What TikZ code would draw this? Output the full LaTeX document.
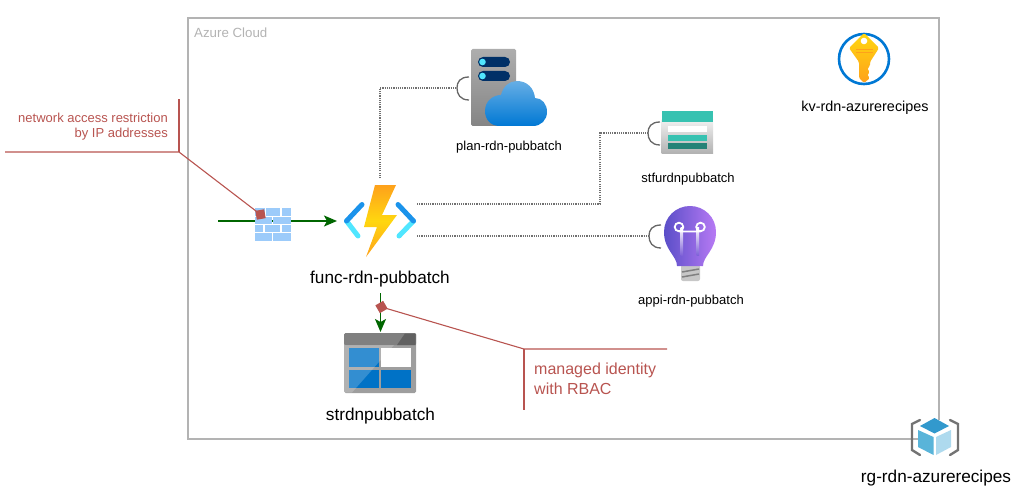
\documentclass[tikz,border=0pt]{standalone}
\usepackage{fontspec}
\setmainfont{Liberation Sans}
\usetikzlibrary{arrows.meta}
\definecolor{frameline}{HTML}{B3B3B3}
\definecolor{noteline}{HTML}{B85450}
\definecolor{flowgreen}{HTML}{006600}
\definecolor{dotline}{HTML}{707070}
\definecolor{brick}{HTML}{9CCBFA}
\definecolor{boltorange}{HTML}{FEA11B}
\definecolor{boltyellow}{HTML}{FFD70F}
\definecolor{azureblue}{HTML}{0078D4}
\definecolor{bracketdark}{HTML}{1B93EB}
\definecolor{bracketlight}{HTML}{50E6FF}
\definecolor{tableblue}{HTML}{0072C6}
\definecolor{navy}{HTML}{003067}
\definecolor{teal}{HTML}{37C2B1}
\definecolor{darkteal}{HTML}{258277}
\definecolor{bulbdark}{HTML}{5A4EC8}
\definecolor{bulblight}{HTML}{B77AF4}
\definecolor{bulbmid}{HTML}{7F62D8}
\definecolor{cubetop}{HTML}{3299CD}
\definecolor{cubeleft}{HTML}{59B4D9}
\definecolor{cuberight}{HTML}{AEDAEE}
\begin{document}
\begin{tikzpicture}[
    x=1pt, y=-1pt,
    iconbox/.style={inner sep=0pt, outer sep=0pt},
    big/.style={font=\fontsize{17.2}{20}\selectfont, inner sep=0pt},
    small/.style={font=\fontsize{13}{15}\selectfont, inner sep=0pt},
    note/.style={text=noteline, inner sep=0pt},
    notemark/.style={fill=noteline, minimum size=9pt, inner sep=0pt},
    noteedge/.style={noteline, line width=1.1pt},
    flow/.style={flowgreen, line width=1.4pt, -{Stealth[length=13pt,width=11pt,inset=3pt]}},
    link/.style={dotline, line width=1.1pt, dash pattern=on 1.1pt off 1.1pt},
    socket/.pic={\draw[black!60, line width=1.3pt] (12,-11) .. controls (3,-11) and (0,-6) .. (0,0) .. controls (0,6) and (3,12) .. (12,12);}]
    \useasboundingbox (0,0) rectangle (1017,492);
    % cloud frame
    \node [draw=frameline, line width=1.2pt, minimum width=751pt, minimum height=421pt, inner sep=0pt] (cloud) at (563.5,228.5) {};
    \node [text=frameline, font=\fontsize{13.3}{15}\selectfont, anchor=base west, inner sep=0pt] (cloudlbl) at (194,37.5) {Azure Cloud};

    % anchors of the icons
    \node [iconbox, minimum width=86pt, minimum height=86pt] (func) at (380,221) {};
    \node [iconbox, minimum width=72pt, minimum height=60pt] (table) at (380,362) {};
    \node [iconbox, minimum width=36pt, minimum height=33pt] (wall) at (273,224.5) {};
    \coordinate (wallin) at (218,221);
    \coordinate (funcplan) at (417,204);
    \coordinate (funcappi) at (417,236);
    \coordinate (funcout) at (380.5,293);
    \coordinate (plansock) at (457,88);
    \coordinate (stsock) at (648,133);
    \coordinate (appisock) at (649,236);

    % connectors
    \draw [link] (func.north) |- (plansock);
    \draw [link] (funcplan) -| (600,133) -- (stsock);
    \draw [link] (funcappi) -- (appisock);
    \draw [flow] (wallin) -- (func.west);
    \draw [flow] (funcout) -- (funcout |- table.north);
    \pic at (plansock) {socket};
    \pic at (stsock) {socket};
    \pic at (appisock) {socket};

    % firewall
    \foreach \ya/\yb/\xa/\xb in {208/216/255/265, 208/216/266/280, 208/216/282/291,
        217/224/255/272, 217/224/273/291,
        225/232/255/263, 225/232/265/280, 225/232/282/291,
        233/241/255/272, 233/241/273/291}
      \fill [brick] (\xa,\ya) rectangle (\xb,\yb);

    % function
    \path [top color=boltorange, bottom color=boltorange, middle color=boltyellow]
      (375,185) -- (396,185) -- (382,215) -- (397,215) -- (366,257) -- (377,227) -- (364,227) -- cycle;
    \draw [line width=5pt, line cap=round, bracketlight] (346.5,221) -- (358,236);
    \draw [line width=5pt, line cap=round, bracketlight] (413.5,221) -- (399,236);
    \draw [line width=5pt, line cap=round, bracketdark] (346.5,221) -- (362,204.5);
    \draw [line width=5pt, line cap=round, bracketdark] (413.5,221) -- (398,204.5);

    % table storage
    \fill [rounded corners=1.5pt, black!38] (344,333) rectangle (416,393);
    \fill [rounded corners=1.5pt, black!50] (344,333) rectangle (416,345);
    \fill [black!62] (405,333.5) -- (415.5,333.5) -- (415.5,345) -- (397,345) -- cycle;
    \fill [tableblue] (349,348) rectangle (379,367);
    \fill [white] (381,348) rectangle (411,367);
    \fill [tableblue] (349,370) rectangle (379,388);
    \fill [tableblue] (381,370) rectangle (411,388);
    \fill [white, opacity=0.2] (344,345) -- (394,345) -- (352,392.5) -- (344,392.5) -- cycle;

    % plan
    \path [rounded corners=1.5pt, top color=black!32, bottom color=black!48] (471,49) rectangle (516,126);
    \fill [rounded corners=5pt, navy] (478,57) rectangle (510,67);
    \fill [rounded corners=5pt, navy] (478,71) rectangle (510,81);
    \fill [bracketlight] (482.5,62) circle (3.3);
    \fill [bracketlight] (482.5,76) circle (3.3);
    \path [top color=azureblue!60!white, bottom color=azureblue]
      (500,126) .. controls (490,126) and (485,119) .. (485,111) .. controls (485,101) and (493,95) .. (501,95)
      .. controls (503,86) and (510,81) .. (517,81) .. controls (527,81) and (534,88) .. (535,98)
      .. controls (542,98) and (547,104) .. (547,112) .. controls (547,120) and (541,126) .. (533,126) -- cycle;

    % storage account
    \path [top color=black!6, bottom color=black!30] (661.5,120) rectangle (713,153);
    \fill [teal] (661.5,111.5) rectangle (713,122);
    \fill [white] (668,126) rectangle (707,132);
    \fill [teal] (668,135) rectangle (707,141);
    \fill [darkteal] (668,143) rectangle (707,149);

    % insights bulb
    \fill [rounded corners=2pt, black!22] (681,265) rectangle (700,281);
    \draw [black!50, line width=1.5pt] (682,272) -- (699,269) (682,277) -- (699,274);
    \path [left color=bulbdark, right color=bulblight]
      (677,266) .. controls (677,256) and (664,250) .. (664,232) .. controls (664,217) and (676,206) .. (690,206)
      .. controls (704,206) and (716,217) .. (716,232) .. controls (716,250) and (703,256) .. (703,266) -- cycle;
    \path [top color=white, bottom color=bulbmid] (680.5,227) rectangle (683,255);
    \path [top color=white, bottom color=bulbmid] (696.5,227) rectangle (699,255);
    \draw [white, line width=1.8pt] (679,227) circle (4.3) (700.5,227) circle (4.3) (679,231.5) -- (700.5,231.5);

    % key vault
    \draw [line width=2.6pt, azureblue, fill=white] (864,59) circle (25);
    \path [top color=boltyellow, bottom color=boltorange, rounded corners=1.5pt]
      (864,33) -- (879,48) -- (870,62) -- (870,66) -- (867,69) -- (870,72) -- (867,75) -- (870,78) -- (864,83) -- (859,78) -- (859,62) -- (849,48) -- cycle;
    \fill [white] (864,41) circle (3.3);
    \draw [line width=1pt, boltorange] (856,50) -- (873,50) (856,53) -- (873,53);

    % resource group
    \fill [white] (920,420) rectangle (950,456);
    \fill [cubetop] (934.5,418) -- (949,426) -- (934.5,433.5) -- (920,426) -- cycle;
    \fill [cubeleft] (918,430) -- (933.5,437) -- (933.5,455) -- (918,447) -- cycle;
    \fill [cuberight] (936,437) -- (951,430) -- (951,447) -- (936,455) -- cycle;
    \draw [black!55, line width=2.4pt, line cap=round] (920,420) -- (912,424) -- (912,450) -- (920,455);
    \draw [black!55, line width=2.4pt, line cap=round] (950,420) -- (958,424) -- (958,450) -- (950,455);

    % labels
    \node [big] (funclbl) at (380,279) {func-rdn-pubbatch};
    \node [big] (tablelbl) at (380.5,416) {strdnpubbatch};
    \node [big, font=\fontsize{14.4}{18}\selectfont] (kvlbl) at (865,108) {kv-rdn-azurerecipes};
    \node [big] (rglbl) at (936,478) {rg-rdn-azurerecipes};
    \node [small] (planlbl) at (509,147) {plan-rdn-pubbatch};
    \node [small] (stlbl) at (688,179) {stfurdnpubbatch};
    \node [small] (appilbl) at (691,301) {appi-rdn-pubbatch};

    % notes
    \node [notemark, rotate=10] (wallmark) at (260.5,214.5) {};
    \node [notemark, rotate=30] (idmark) at (381.5,307) {};
    \coordinate (wallbend) at (179,152);
    \coordinate (idbend) at (524,349);
    \draw [noteedge] (wallmark.center) -- (wallbend) -- (5,152);
    \draw [noteedge] (wallbend) -- (179,99);
    \draw [noteedge] (idmark.center) -- (idbend) -- (667,349);
    \draw [noteedge] (idbend) -- (524,410);
    \node [note, align=right, anchor=east, font=\fontsize{13}{15}\selectfont] (wallnote) at (168,126.5) {network access restriction\\by IP addresses};
    \node [note, align=left, anchor=west, font=\fontsize{16}{20}\selectfont] (idnote) at (534,378.5) {managed identity\\with RBAC};
  \end{tikzpicture}
\end{document}
